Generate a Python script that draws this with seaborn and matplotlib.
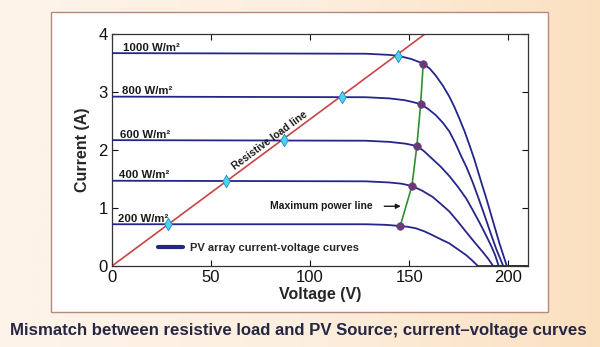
import numpy as np
import pandas as pd
import matplotlib
matplotlib.use("Agg")
import matplotlib.pyplot as plt
import seaborn as sns
from matplotlib.lines import Line2D
from matplotlib.patches import Rectangle
from matplotlib.colors import LinearSegmentedColormap

# ---- data -------------------------------------------------------------
irradiance = [200, 400, 600, 800, 1000]
irradiance_labels = ["200 W/m²", "400 W/m²", "600 W/m²", "800 W/m²", "1000 W/m²"]

v_200 = [0, 128, 138, 145.5, 149.5, 153.4, 157.5, 161.9, 166, 170.3, 174.5, 178.7, 181.7, 184.7, 210]
i_200 = [0.72, 0.72, 0.71, 0.69, 0.675, 0.65, 0.60, 0.53, 0.46, 0.39, 0.29, 0.19, 0.10, 0.0, 0.0]

v_400 = [0, 128, 140, 146, 151.4, 156.5, 161.9, 166, 170.3, 174.5, 178.7, 183, 187.2, 190, 192.4, 210]
i_400 = [1.47, 1.46, 1.44, 1.42, 1.38, 1.30, 1.19, 1.07, 0.94, 0.77, 0.59, 0.41, 0.24, 0.12, 0.0, 0.0]

v_600 = [0, 128, 140, 148, 153.9, 157.5, 161.9, 166, 170.3, 174.5, 178.7, 182, 185.5, 188.5,
         191.5, 193.5, 195.2, 210]
i_600 = [2.17, 2.16, 2.14, 2.11, 2.07, 1.98, 1.84, 1.71, 1.55, 1.37, 1.17, 0.97, 0.75, 0.55,
         0.34, 0.18, 0.0, 0.0]

v_800 = [0, 128, 140, 147.5, 151.5, 155.8, 159.5, 163.5, 167, 170.3, 173.3, 176.2, 179, 182,
         185, 188, 191, 194, 197.5, 210]
i_800 = [2.92, 2.91, 2.89, 2.86, 2.83, 2.79, 2.71, 2.60, 2.47, 2.32, 2.12, 1.90, 1.70, 1.45,
         1.17, 0.88, 0.58, 0.29, 0.0, 0.0]

v_1000 = [0, 128, 140, 145, 151, 157.1, 160.5, 163.5, 167, 170.3, 173, 175.5, 178, 180.5,
          183, 186, 189, 192, 195.5, 199.3, 210]
i_1000 = [3.67, 3.66, 3.64, 3.62, 3.57, 3.49, 3.40, 3.28, 3.11, 2.92, 2.73, 2.53, 2.32, 2.08,
          1.83, 1.49, 1.16, 0.81, 0.40, 0.0, 0.0]

# maximum power points
mpp_voltage = [145.5, 151.4, 153.9, 155.8, 157.1]
mpp_current = [0.69, 1.38, 2.07, 2.79, 3.49]

# resistive load line and its operating points
load_line_voltage = [0, 158]
load_line_current = [0, 4]
op_voltage = [28.5, 57.7, 86.7, 116.3, 144.6]
op_current = [0.72, 1.47, 2.17, 2.92, 3.62]

x_ticks = [0, 50, 100, 150, 200]
y_ticks = [0, 1, 2, 3, 4]

# ---- long-form table for seaborn ---------------------------------------
curves = {200: (v_200, i_200), 400: (v_400, i_400), 600: (v_600, i_600),
          800: (v_800, i_800), 1000: (v_1000, i_1000)}
rows = []
for g, (vv, ii) in curves.items():
    for k, (v, i) in enumerate(zip(vv, ii)):
        rows.append({"G": g, "order": k, "Voltage": v, "Current": i})
iv = pd.DataFrame(rows)
mpp = pd.DataFrame({"Voltage": mpp_voltage, "Current": mpp_current})
load = pd.DataFrame({"Voltage": load_line_voltage, "Current": load_line_current})
ops = pd.DataFrame({"Voltage": op_voltage, "Current": op_current})

# ---- style ---------------------------------------------------------------
sns.set_style("ticks")
plt.rcParams["font.family"] = ["Liberation Sans", "DejaVu Sans"]

NAVY = "#25258c"
RED = "#c94444"
GREEN = "#2f8f2f"
CYAN = "#4fd2f2"
CYAN_EDGE = "#1e8dc0"
PURPLE = "#6a3a78"

fig = plt.figure(figsize=(6.0, 3.47), dpi=100)

# warm slide background
bg = fig.add_axes([0, 0, 1, 1], zorder=-10)
cmap = LinearSegmentedColormap.from_list("warm", ["#fdf4ea", "#fdefdf", "#fbe0c0"])
grad = np.linspace(0, 1, 256)[None, :]
bg.imshow(grad, aspect="auto", cmap=cmap, extent=[0, 1, 0, 1])
bg.set_axis_off()

# white panel with thin border
fig.patches.append(Rectangle((51 / 600, 1 - 312 / 347), 497 / 600, 300 / 347,
                             transform=fig.transFigure, facecolor="white",
                             edgecolor="#b58a7c", linewidth=1.0, zorder=-5))

ax = fig.add_axes([112 / 600, 1 - 266 / 347, 416 / 600, 232 / 347])
ax.set_facecolor("white")

sns.lineplot(data=iv, x="Voltage", y="Current", units="G", estimator=None,
             sort=False, color=NAVY, linewidth=1.3, legend=False, ax=ax, zorder=3)
sns.lineplot(data=load, x="Voltage", y="Current", color=RED, linewidth=1.2,
             estimator=None, ax=ax, zorder=2)
sns.lineplot(data=mpp, x="Voltage", y="Current", color=GREEN, linewidth=1.2,
             estimator=None, sort=False, ax=ax, zorder=4)
sns.scatterplot(data=mpp, x="Voltage", y="Current", color=PURPLE, s=30,
                edgecolor=PURPLE, ax=ax, zorder=5)
sns.scatterplot(data=ops, x="Voltage", y="Current", color=CYAN, marker="d", s=40,
                edgecolor=CYAN_EDGE, linewidth=0.6, ax=ax, zorder=5)

# irradiance labels
label_x = [3, 3.5, 4, 5, 5.6]
start_currents = [i_200[0], i_400[0], i_600[0], i_800[0], i_1000[0]]
for lx, cy, txt in zip(label_x, start_currents, irradiance_labels):
    ax.text(lx, cy + 0.04, txt, fontsize=8.2, fontweight="bold",
            color="#1a1a1a", ha="left", va="baseline", zorder=6)

ax.text(79.5, 2.17, "Resistive load line", fontsize=7.5, fontweight="bold",
        color="#1a1a1a", rotation=36.6, ha="center", va="center",
        rotation_mode="anchor", zorder=6)

ax.annotate("Maximum power line", xy=(145.8, 1.03), xytext=(131.6, 1.03),
            fontsize=7.5, fontweight="bold", color="#1a1a1a",
            ha="right", va="center",
            arrowprops=dict(arrowstyle="-|>", color="#1a1a1a", lw=1.0,
                            mutation_scale=7, shrinkA=6, shrinkB=0),
            zorder=6)

handle = Line2D([], [], color=NAVY, linewidth=3)
ax.legend([handle], ["PV array current-voltage curves"], loc="center left",
          bbox_to_anchor=(0.11, 0.079), frameon=False,
          borderpad=0, borderaxespad=0, handlelength=2.3, handletextpad=0.6,
          prop={"weight": "bold", "size": 8})

ax.set_xlim(0, 210)
ax.set_ylim(0, 4)
ax.set_xticks(x_ticks)
ax.set_yticks(y_ticks)
ax.tick_params(direction="in", length=4, width=0.8, labelsize=12, colors="#111111",
               top=True, right=True, labeltop=False, labelright=False, pad=3)
for s in ax.spines.values():
    s.set_linewidth(0.9)
    s.set_color("#333333")
ax.set_xlabel("Voltage (V)", fontsize=11.5, fontweight="bold", labelpad=1)
ax.set_ylabel("Current (A)", fontsize=11.5, fontweight="bold", labelpad=6)

fig.text(0.497, 1 - 331 / 347,
         "Mismatch between resistive load and PV Source; current\u2013voltage curves",
         fontsize=12.1, fontweight="bold", color="#262645", ha="center", va="center")

fig.savefig("out.png", dpi=100)
